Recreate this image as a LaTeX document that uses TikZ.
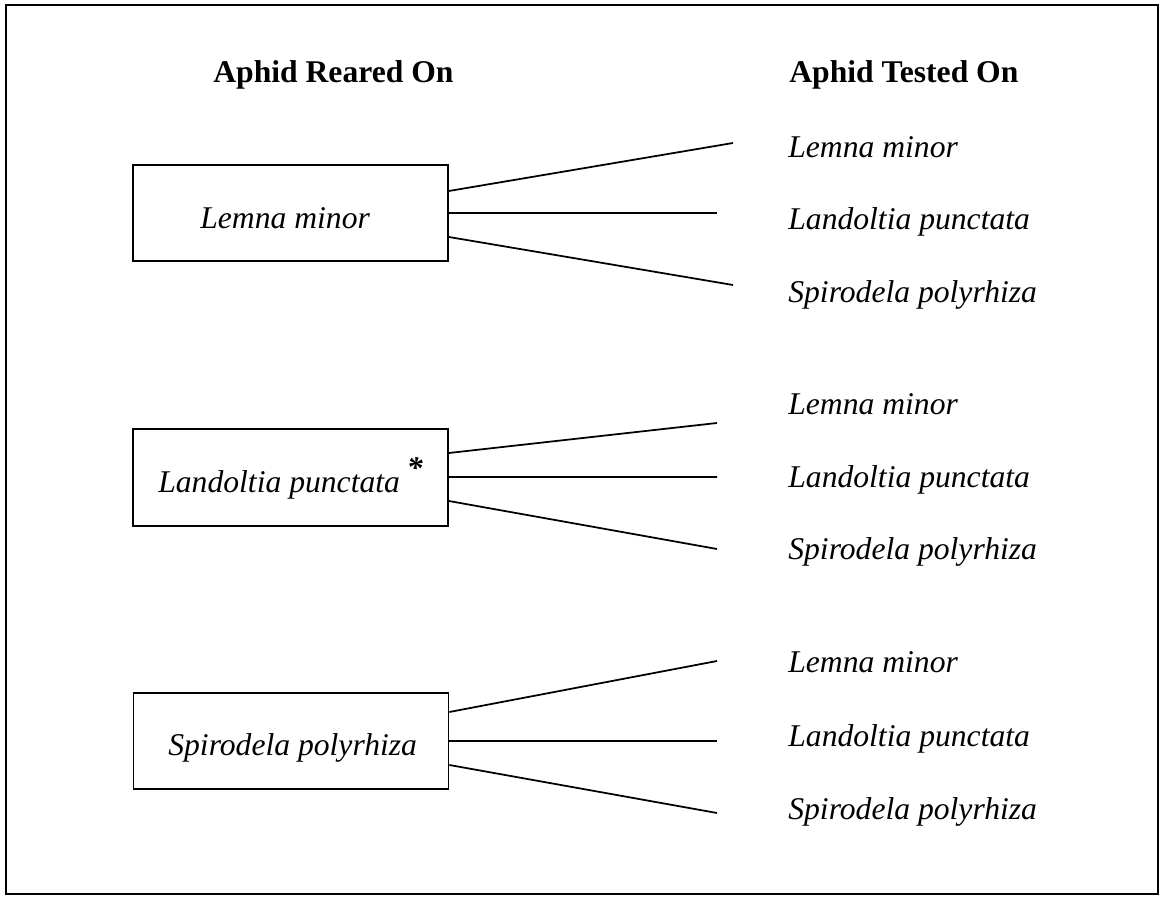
\documentclass[tikz,border=0pt]{standalone}
\usepackage{fontspec}
\setmainfont{Liberation Serif}
\usetikzlibrary{positioning}

\begin{document}
\begin{tikzpicture}[x=0.02cm, y=-0.02cm,
  rearedbox/.style={draw, rectangle, line width=1pt, minimum width=6.3cm, minimum height=1.93cm, inner sep=0pt},
  plantname/.style={anchor=base west, inner sep=0pt, font=\fontsize{18}{22}\selectfont\itshape},
  heading/.style={anchor=base west, inner sep=0pt, font=\fontsize{18}{22}\selectfont\bfseries},
  link/.style={line width=1pt}]

\useasboundingbox (0,0) rectangle (1161,898);

% outer frame
\draw[line width=1.2pt] (6,5) rectangle (1158,894);

% column titles
\node[heading] at (213, 83) (reared) {Aphid Reared On};
\node[heading] at (789, 83) (tested) {Aphid Tested On};

% reared on, boxes
\node[rearedbox] at (290.5, 213) (lmbox) {};
\node[rearedbox] at (290.5, 477.5) (lpbox) {};
\node[rearedbox] at (291, 741) (spbox) {};
\node[plantname] at (200, 229) (lmtext) {Lemna minor};
\node[plantname] at (158, 493) (lptext) {Landoltia punctata\hspace{4pt}\raisebox{8pt}{\bfseries *}};
\node[plantname] at (168, 756) (sptext) {Spirodela polyrhiza};

% tested on, first group
\node[plantname] at (788, 158) (lmlm) {Lemna minor};
\node[plantname] at (788, 230) (lmlp) {Landoltia punctata};
\node[plantname] at (788, 303) (lmsp) {Spirodela polyrhiza};
\coordinate (lmend1) at (733, 143);
\coordinate (lmend2) at (717, 213);
\coordinate (lmend3) at (733, 285);
\draw[link] ([yshift=0.44cm]lmbox.east) -- (lmend1);
\draw[link] (lmbox.east) -- (lmend2);
\draw[link] ([yshift=-0.48cm]lmbox.east) -- (lmend3);

% tested on, second group
\node[plantname] at (788, 415) (lplm) {Lemna minor};
\node[plantname] at (788, 488) (lplp) {Landoltia punctata};
\node[plantname] at (788, 560) (lpsp) {Spirodela polyrhiza};
\coordinate (lpend1) at (717, 423);
\coordinate (lpend2) at (717, 477);
\coordinate (lpend3) at (717, 549);
\draw[link] ([yshift=0.49cm]lpbox.east) -- (lpend1);
\draw[link] ([yshift=0.01cm]lpbox.east) -- (lpend2);
\draw[link] ([yshift=-0.47cm]lpbox.east) -- (lpend3);

% tested on, third group
\node[plantname] at (788, 673) (splm) {Lemna minor};
\node[plantname] at (788, 747) (splp) {Landoltia punctata};
\node[plantname] at (788, 820) (spsp) {Spirodela polyrhiza};
\coordinate (spend1) at (717, 661);
\coordinate (spend2) at (717, 741);
\coordinate (spend3) at (717, 813);
\draw[link] ([yshift=0.58cm]spbox.east) -- (spend1);
\draw[link] (spbox.east) -- (spend2);
\draw[link] ([yshift=-0.48cm]spbox.east) -- (spend3);

\end{tikzpicture}
\end{document}
